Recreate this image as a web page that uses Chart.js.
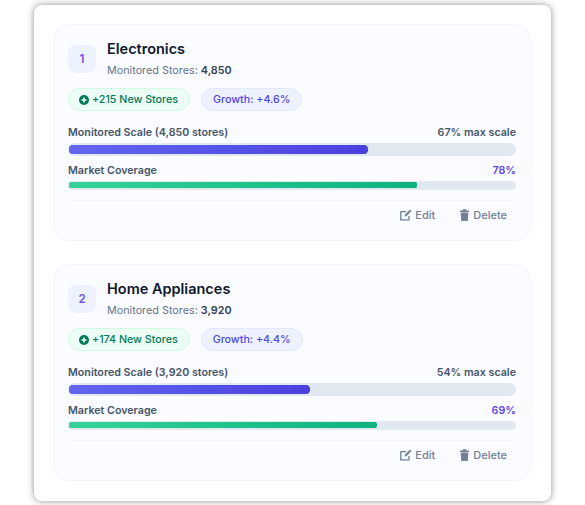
<!DOCTYPE html>
<html>
<head>
<meta charset="utf-8">
<script src="https://cdn.jsdelivr.net/npm/chart.js@4"></script>
<style>
    * { box-sizing: border-box; }
    html, body { margin: 0; padding: 0; background: #fff; overflow: hidden; }
    body { width: 585px; height: 505px; font-family: Inter, "Noto Sans", sans-serif; color: #1e293b; }
    .panel { position: absolute; left: 34px; top: 5px; width: 517px; height: 496px; background: #fff; border-radius: 8px; box-shadow: 0 0 7px rgba(0, 0, 0, .45); padding: 19px 19px 0; }
    .card { width: 478px; height: 217px; margin-bottom: 23px; padding: 14px 14px 0; background: #fbfcff; border: 1px solid #f1f5f9; border-radius: 16px; }
    .head { display: flex; height: 49px; }
    .num { width: 28px; height: 28px; margin: 6px 11px 0 0; border-radius: 8px; background: #eef2ff; color: #6d4ff0; font-size: 11.5px; font-weight: 600; line-height: 28px; text-align: center; }
    .title { height: 20px; font-size: 14.5px; font-weight: 600; line-height: 20px; color: #0f172a; }
    .sub { margin-top: 4px; font-size: 10.8px; line-height: 16px; color: #64748b; }
    .sub b { font-weight: 600; color: #334155; }
    .chips { display: flex; gap: 11px; height: 23px; }
    .chip { height: 23px; padding: 0 11px; border-radius: 12px; font-size: 10.7px; font-weight: 500; line-height: 21px; border: 1px solid; display: flex; align-items: center; }
    .chip.green { padding: 0 11px 0 10px; background: #ecfdf5; border-color: #d1fae5; color: #047857; }
    .chip.blue { background: #eef2ff; border-color: #e0e7ff; color: #4f46e5; }
    .chip svg { margin-right: 3px; }
    .row { position: relative; top: 1px; display: flex; justify-content: space-between; height: 16px; font-size: 10.7px; font-weight: 600; line-height: 16px; color: #475569; }
    .row.first { margin-top: 13px; }
    .row.second { margin-top: 6px; }
    .row .pct { color: #5b45ea; }
    .track { position: relative; width: 448px; margin-top: 3px; background: #e2e8f0; border-radius: 7px; }
    .track.big { height: 13px; }
    .track.small { height: 9px; }
    .track canvas { position: absolute; left: 1px; top: 1px; }
    .track.big canvas { top: 2px; }
    .divider { height: 1px; margin-top: 10px; background: #f1f5f9; }
    .actions { display: flex; justify-content: flex-end; gap: 24px; margin-top: 7px; padding-right: 9px; font-size: 11px; font-weight: 500; line-height: 14px; color: #718096; }
    .actions span { display: flex; align-items: center; gap: 3px; }
</style>
</head>
<body>
<div class="panel" id="panel"></div>
<script>
const categories = ['Electronics', 'Home Appliances'];
const monitoredStores = [4850, 3920];
const newStores = [215, 174];
const growth = [4.6, 4.4];
const scalePct = [67, 54];
const coveragePct = [78, 69];

const plusIcon = '<svg width="10" height="10" viewBox="0 0 12 12"><circle cx="6" cy="6" r="6" fill="#047857"/><path d="M6 3v6M3 6h6" stroke="#ecfdf5" stroke-width="1.8"/></svg>';
const editIcon = '<svg width="12" height="12" viewBox="0 0 12 12" fill="none" stroke="#718096" stroke-width="1.3"><path d="M9 7v3.8H.8V2.6H6"/><path d="M4.6 7.6l.3-1.8L10 .6l1.4 1.5-5 5.2z" fill="#718096" stroke="none"/></svg>';
const trashIcon = '<svg width="11" height="12" viewBox="0 0 11 12" fill="#718096"><path d="M1 1.6h9v1.3H1zM3.8.2h3.4v1.4H3.8zM1.7 3.6h7.6l-.5 8.4H2.2z"/></svg>';

const panel = document.getElementById('panel');

categories.forEach(function (name, i) {
    const count = monitoredStores[i].toLocaleString('en-US');
    const card = document.createElement('div');
    card.className = 'card';
    card.innerHTML = `
        <div class="head">
            <div class="num">${i + 1}</div>
            <div>
                <div class="title">${name}</div>
                <div class="sub">Monitored Stores: <b>${count}</b></div>
            </div>
        </div>
        <div class="chips">
            <div class="chip green">${plusIcon}+${newStores[i]} New Stores</div>
            <div class="chip blue">Growth: +${growth[i]}%</div>
        </div>
        <div class="row first"><span>Monitored Scale (${count} stores)</span><span>${scalePct[i]}% max scale</span></div>
        <div class="track big"><canvas id="scale${i}" width="446" height="9"></canvas></div>
        <div class="row second"><span>Market Coverage</span><span class="pct">${coveragePct[i]}%</span></div>
        <div class="track small"><canvas id="cover${i}" width="446" height="6"></canvas></div>
        <div class="divider"></div>
        <div class="actions"><span>${editIcon}Edit</span><span>${trashIcon}Delete</span></div>`;
    panel.appendChild(card);
    drawBar('scale' + i, name, scalePct[i], '#6366f1', '#4a40df', 5);
    drawBar('cover' + i, name, coveragePct[i], '#34d399', '#10b17d', 3);
});

// one horizontal bar per canvas, the grey track behind it is the css background
function drawBar(id, label, value, from, to, radius) {
    new Chart(document.getElementById(id).getContext('2d'), {
        type: 'bar',
        data: {
            labels: [label],
            datasets: [{
                data: [value],
                borderRadius: radius,
                borderSkipped: false,
                barPercentage: 1,
                categoryPercentage: 1,
                backgroundColor: function (context) {
                    const chart = context.chart;
                    if (!chart.chartArea) return from;
                    const g = chart.ctx.createLinearGradient(0, 0, chart.scales.x.getPixelForValue(value), 0);
                    g.addColorStop(0, from);
                    g.addColorStop(1, to);
                    return g;
                }
            }]
        },
        options: {
            indexAxis: 'y',
            responsive: false,
            animation: false,
            layout: { padding: 0 },
            plugins: { legend: { display: false }, tooltip: { enabled: false } },
            scales: {
                x: { display: false, min: 0, max: 100 },
                y: { display: false }
            }
        }
    });
}
</script>
</body>
</html>
